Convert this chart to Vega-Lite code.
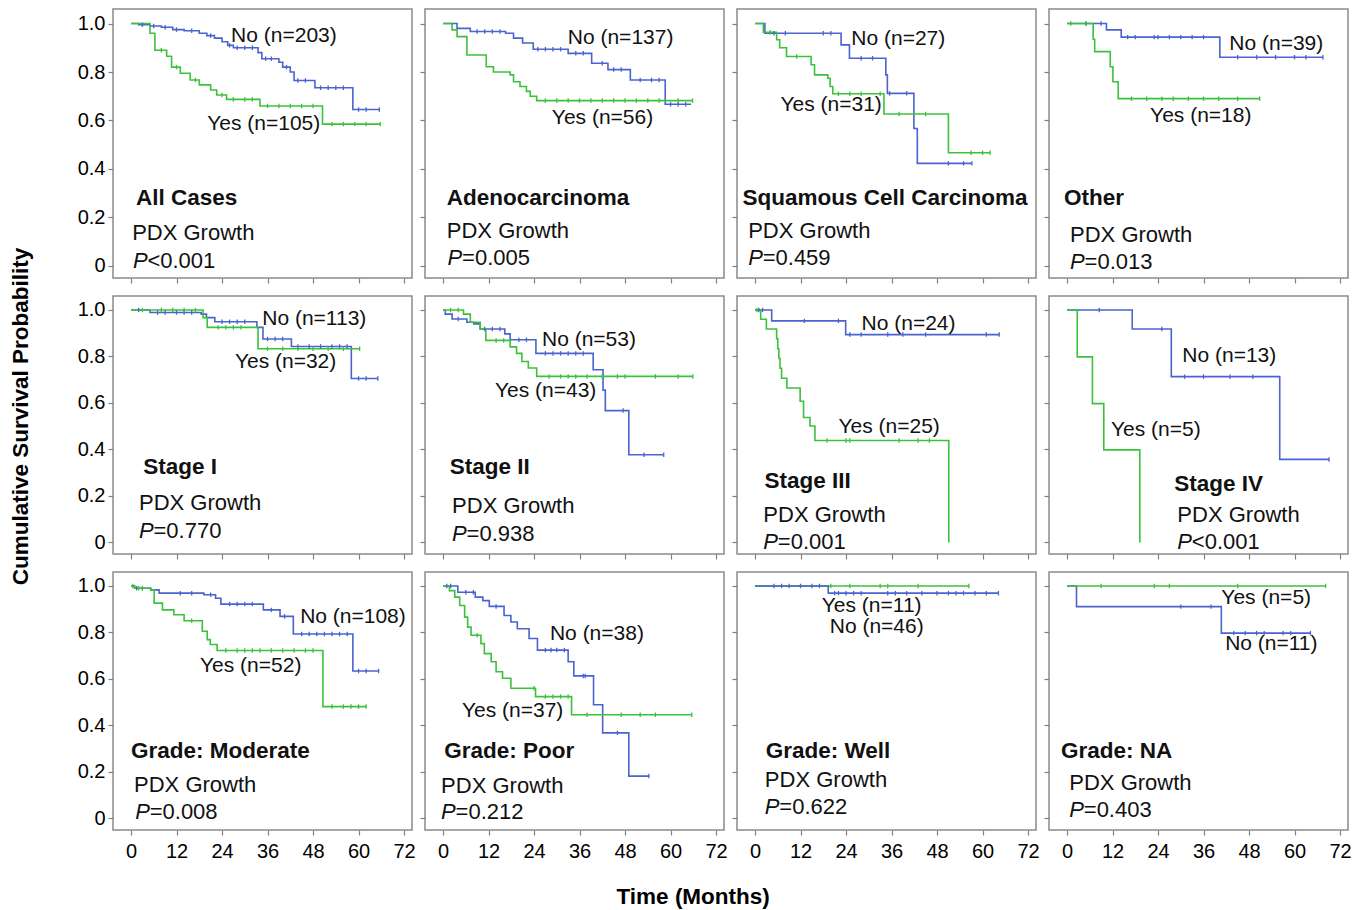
{
"$schema": "https://vega.github.io/schema/vega-lite/v6.json",
"padding": {"left": 8, "top": 8, "right": 5, "bottom": 0},
"title": {"text": "Time (Months)", "orient": "bottom", "anchor": "middle", "fontSize": 22.5, "fontWeight": "bold", "font": "Liberation Sans", "offset": 24, "dx": 13, "color": "#000"},
"datasets": {"d": [
{"p":1,"g":"No","k":"e","t":0,"s":1},{"p":1,"g":"No","k":"e","t":2,"s":0.995},{"p":1,"g":"No","k":"e","t":5,"s":0.99},{"p":1,"g":"No","k":"e","t":8,"s":0.985},{"p":1,"g":"No","k":"e","t":11,"s":0.975},{"p":1,"g":"No","k":"e","t":14,"s":0.97},{"p":1,"g":"No","k":"e","t":18,"s":0.96},{"p":1,"g":"No","k":"e","t":20,"s":0.95},{"p":1,"g":"No","k":"e","t":22,"s":0.94},{"p":1,"g":"No","k":"e","t":24,"s":0.925},{"p":1,"g":"No","k":"e","t":25.5,"s":0.91},{"p":1,"g":"No","k":"e","t":27,"s":0.9},{"p":1,"g":"No","k":"e","t":33.5,"s":0.88},{"p":1,"g":"No","k":"e","t":34.5,"s":0.855},{"p":1,"g":"No","k":"e","t":39,"s":0.84},{"p":1,"g":"No","k":"e","t":40,"s":0.82},{"p":1,"g":"No","k":"e","t":42,"s":0.8},{"p":1,"g":"No","k":"e","t":43,"s":0.765},{"p":1,"g":"No","k":"e","t":48.5,"s":0.735},{"p":1,"g":"No","k":"e","t":58.5,"s":0.645},{"p":1,"g":"No","k":"e","t":65.5,"s":0.645},
{"p":1,"g":"No","k":"c","t":3,"s":0.995},{"p":1,"g":"No","k":"c","t":6,"s":0.99},{"p":1,"g":"No","k":"c","t":9,"s":0.985},{"p":1,"g":"No","k":"c","t":12,"s":0.975},{"p":1,"g":"No","k":"c","t":16,"s":0.97},{"p":1,"g":"No","k":"c","t":21,"s":0.95},{"p":1,"g":"No","k":"c","t":26,"s":0.91},{"p":1,"g":"No","k":"c","t":28,"s":0.9},{"p":1,"g":"No","k":"c","t":30,"s":0.9},{"p":1,"g":"No","k":"c","t":32,"s":0.9},{"p":1,"g":"No","k":"c","t":35.5,"s":0.855},{"p":1,"g":"No","k":"c","t":37,"s":0.855},{"p":1,"g":"No","k":"c","t":41,"s":0.82},{"p":1,"g":"No","k":"c","t":44,"s":0.765},{"p":1,"g":"No","k":"c","t":46,"s":0.765},{"p":1,"g":"No","k":"c","t":50,"s":0.735},{"p":1,"g":"No","k":"c","t":52,"s":0.735},{"p":1,"g":"No","k":"c","t":54,"s":0.735},{"p":1,"g":"No","k":"c","t":56,"s":0.735},{"p":1,"g":"No","k":"c","t":60,"s":0.645},{"p":1,"g":"No","k":"c","t":62,"s":0.645},{"p":1,"g":"No","k":"c","t":65.5,"s":0.645},
{"p":1,"g":"Yes","k":"e","t":0,"s":1},{"p":1,"g":"Yes","k":"e","t":5,"s":0.96},{"p":1,"g":"Yes","k":"e","t":6.3,"s":0.89},{"p":1,"g":"Yes","k":"e","t":9.4,"s":0.865},{"p":1,"g":"Yes","k":"e","t":10.7,"s":0.82},{"p":1,"g":"Yes","k":"e","t":13,"s":0.795},{"p":1,"g":"Yes","k":"e","t":15.6,"s":0.767},{"p":1,"g":"Yes","k":"e","t":18,"s":0.747},{"p":1,"g":"Yes","k":"e","t":21,"s":0.726},{"p":1,"g":"Yes","k":"e","t":22.6,"s":0.705},{"p":1,"g":"Yes","k":"e","t":25.2,"s":0.687},{"p":1,"g":"Yes","k":"e","t":34,"s":0.66},{"p":1,"g":"Yes","k":"e","t":50.5,"s":0.585},{"p":1,"g":"Yes","k":"e","t":65.7,"s":0.585},
{"p":1,"g":"Yes","k":"c","t":8,"s":0.89},{"p":1,"g":"Yes","k":"c","t":12,"s":0.82},{"p":1,"g":"Yes","k":"c","t":17,"s":0.767},{"p":1,"g":"Yes","k":"c","t":24,"s":0.705},{"p":1,"g":"Yes","k":"c","t":27,"s":0.687},{"p":1,"g":"Yes","k":"c","t":30,"s":0.687},{"p":1,"g":"Yes","k":"c","t":32,"s":0.687},{"p":1,"g":"Yes","k":"c","t":36,"s":0.66},{"p":1,"g":"Yes","k":"c","t":39,"s":0.66},{"p":1,"g":"Yes","k":"c","t":42,"s":0.66},{"p":1,"g":"Yes","k":"c","t":45,"s":0.66},{"p":1,"g":"Yes","k":"c","t":48,"s":0.66},{"p":1,"g":"Yes","k":"c","t":53,"s":0.585},{"p":1,"g":"Yes","k":"c","t":56,"s":0.585},{"p":1,"g":"Yes","k":"c","t":59,"s":0.585},{"p":1,"g":"Yes","k":"c","t":62,"s":0.585},{"p":1,"g":"Yes","k":"c","t":65.7,"s":0.585},
{"p":1,"k":"n","t":26.4,"s":0.949,"x":"No (n=203)"},{"p":1,"k":"n","t":20.1,"s":0.586,"x":"Yes (n=105)"},{"p":1,"k":"h","t":1.3,"s":0.28,"x":"All Cases"},{"p":1,"k":"sub","t":0.3,"s":0.136,"x":"PDX Growth"},{"p":1,"k":"pv","t":0.5,"s":0.02,"x":"<0.001"},

{"p":2,"g":"No","k":"e","t":0,"s":1},{"p":2,"g":"No","k":"e","t":3.7,"s":0.98},{"p":2,"g":"No","k":"e","t":7.2,"s":0.967},{"p":2,"g":"No","k":"e","t":16.5,"s":0.96},{"p":2,"g":"No","k":"e","t":18.6,"s":0.94},{"p":2,"g":"No","k":"e","t":21,"s":0.92},{"p":2,"g":"No","k":"e","t":23.8,"s":0.894},{"p":2,"g":"No","k":"e","t":33,"s":0.877},{"p":2,"g":"No","k":"e","t":39.2,"s":0.836},{"p":2,"g":"No","k":"e","t":43.5,"s":0.81},{"p":2,"g":"No","k":"e","t":49.4,"s":0.767},{"p":2,"g":"No","k":"e","t":58.6,"s":0.667},{"p":2,"g":"No","k":"e","t":65.4,"s":0.667},
{"p":2,"g":"No","k":"c","t":9,"s":0.967},{"p":2,"g":"No","k":"c","t":11,"s":0.967},{"p":2,"g":"No","k":"c","t":13,"s":0.967},{"p":2,"g":"No","k":"c","t":15,"s":0.967},{"p":2,"g":"No","k":"c","t":25,"s":0.894},{"p":2,"g":"No","k":"c","t":27,"s":0.894},{"p":2,"g":"No","k":"c","t":29,"s":0.894},{"p":2,"g":"No","k":"c","t":31,"s":0.894},{"p":2,"g":"No","k":"c","t":35,"s":0.877},{"p":2,"g":"No","k":"c","t":37,"s":0.877},{"p":2,"g":"No","k":"c","t":42,"s":0.836},{"p":2,"g":"No","k":"c","t":45,"s":0.81},{"p":2,"g":"No","k":"c","t":47,"s":0.81},{"p":2,"g":"No","k":"c","t":52,"s":0.767},{"p":2,"g":"No","k":"c","t":55,"s":0.767},{"p":2,"g":"No","k":"c","t":57,"s":0.767},{"p":2,"g":"No","k":"c","t":60,"s":0.667},{"p":2,"g":"No","k":"c","t":62,"s":0.667},{"p":2,"g":"No","k":"c","t":64,"s":0.667},
{"p":2,"g":"Yes","k":"e","t":0,"s":1},{"p":2,"g":"Yes","k":"e","t":2.4,"s":0.974},{"p":2,"g":"Yes","k":"e","t":3.7,"s":0.946},{"p":2,"g":"Yes","k":"e","t":6.3,"s":0.87},{"p":2,"g":"Yes","k":"e","t":11.4,"s":0.822},{"p":2,"g":"Yes","k":"e","t":13.3,"s":0.8},{"p":2,"g":"Yes","k":"e","t":17.7,"s":0.788},{"p":2,"g":"Yes","k":"e","t":18.6,"s":0.76},{"p":2,"g":"Yes","k":"e","t":20.3,"s":0.74},{"p":2,"g":"Yes","k":"e","t":22,"s":0.72},{"p":2,"g":"Yes","k":"e","t":23,"s":0.7},{"p":2,"g":"Yes","k":"e","t":24.7,"s":0.682},{"p":2,"g":"Yes","k":"e","t":65.8,"s":0.682},
{"p":2,"g":"Yes","k":"c","t":27,"s":0.682},{"p":2,"g":"Yes","k":"c","t":30,"s":0.682},{"p":2,"g":"Yes","k":"c","t":33,"s":0.682},{"p":2,"g":"Yes","k":"c","t":36,"s":0.682},{"p":2,"g":"Yes","k":"c","t":39,"s":0.682},{"p":2,"g":"Yes","k":"c","t":42,"s":0.682},{"p":2,"g":"Yes","k":"c","t":45,"s":0.682},{"p":2,"g":"Yes","k":"c","t":48,"s":0.682},{"p":2,"g":"Yes","k":"c","t":51,"s":0.682},{"p":2,"g":"Yes","k":"c","t":54,"s":0.682},{"p":2,"g":"Yes","k":"c","t":57,"s":0.682},{"p":2,"g":"Yes","k":"c","t":62,"s":0.682},{"p":2,"g":"Yes","k":"c","t":65.8,"s":0.682},
{"p":2,"k":"n","t":32.9,"s":0.941,"x":"No (n=137)"},{"p":2,"k":"n","t":28.7,"s":0.61,"x":"Yes (n=56)"},{"p":2,"k":"h","t":1.0,"s":0.28,"x":"Adenocarcinoma"},{"p":2,"k":"sub","t":1.0,"s":0.144,"x":"PDX Growth"},{"p":2,"k":"pv","t":1.2,"s":0.033,"x":"=0.005"},

{"p":3,"g":"No","k":"e","t":0,"s":1},{"p":3,"g":"No","k":"e","t":2.6,"s":0.96},{"p":3,"g":"No","k":"e","t":22.7,"s":0.912},{"p":3,"g":"No","k":"e","t":24.9,"s":0.857},{"p":3,"g":"No","k":"e","t":34.5,"s":0.788},{"p":3,"g":"No","k":"e","t":34.9,"s":0.712},{"p":3,"g":"No","k":"e","t":41.9,"s":0.567},{"p":3,"g":"No","k":"e","t":42.8,"s":0.423},{"p":3,"g":"No","k":"e","t":57.2,"s":0.423},
{"p":3,"g":"No","k":"c","t":5,"s":0.96},{"p":3,"g":"No","k":"c","t":8,"s":0.96},{"p":3,"g":"No","k":"c","t":18,"s":0.96},{"p":3,"g":"No","k":"c","t":20,"s":0.96},{"p":3,"g":"No","k":"c","t":28,"s":0.857},{"p":3,"g":"No","k":"c","t":31,"s":0.857},{"p":3,"g":"No","k":"c","t":35.5,"s":0.712},{"p":3,"g":"No","k":"c","t":40,"s":0.712},{"p":3,"g":"No","k":"c","t":51,"s":0.423},{"p":3,"g":"No","k":"c","t":55,"s":0.423},{"p":3,"g":"No","k":"c","t":57.2,"s":0.423},
{"p":3,"g":"Yes","k":"e","t":0,"s":1},{"p":3,"g":"Yes","k":"e","t":2.2,"s":0.964},{"p":3,"g":"Yes","k":"e","t":5.7,"s":0.933},{"p":3,"g":"Yes","k":"e","t":6.5,"s":0.9},{"p":3,"g":"Yes","k":"e","t":8.3,"s":0.864},{"p":3,"g":"Yes","k":"e","t":14.8,"s":0.83},{"p":3,"g":"Yes","k":"e","t":15.7,"s":0.788},{"p":3,"g":"Yes","k":"e","t":19.2,"s":0.774},{"p":3,"g":"Yes","k":"e","t":19.8,"s":0.74},{"p":3,"g":"Yes","k":"e","t":20.5,"s":0.71},{"p":3,"g":"Yes","k":"e","t":34,"s":0.627},{"p":3,"g":"Yes","k":"e","t":51,"s":0.467},{"p":3,"g":"Yes","k":"e","t":62,"s":0.467},
{"p":3,"g":"Yes","k":"c","t":4,"s":0.964},{"p":3,"g":"Yes","k":"c","t":11,"s":0.864},{"p":3,"g":"Yes","k":"c","t":22,"s":0.71},{"p":3,"g":"Yes","k":"c","t":25,"s":0.71},{"p":3,"g":"Yes","k":"c","t":28,"s":0.71},{"p":3,"g":"Yes","k":"c","t":33,"s":0.71},{"p":3,"g":"Yes","k":"c","t":38,"s":0.627},{"p":3,"g":"Yes","k":"c","t":45,"s":0.627},{"p":3,"g":"Yes","k":"c","t":57,"s":0.467},{"p":3,"g":"Yes","k":"c","t":60,"s":0.467},{"p":3,"g":"Yes","k":"c","t":62,"s":0.467},
{"p":3,"k":"n","t":25.4,"s":0.937,"x":"No (n=27)"},{"p":3,"k":"n","t":6.7,"s":0.664,"x":"Yes (n=31)"},{"p":3,"k":"h","t":-3.3,"s":0.28,"x":"Squamous Cell Carcinoma"},{"p":3,"k":"sub","t":-1.8,"s":0.144,"x":"PDX Growth"},{"p":3,"k":"pv","t":-1.8,"s":0.033,"x":"=0.459"},

{"p":4,"g":"No","k":"e","t":0,"s":1},{"p":4,"g":"No","k":"e","t":10.4,"s":0.974},{"p":4,"g":"No","k":"e","t":14.3,"s":0.944},{"p":4,"g":"No","k":"e","t":40.3,"s":0.861},{"p":4,"g":"No","k":"e","t":67.5,"s":0.861},
{"p":4,"g":"No","k":"c","t":5,"s":1},{"p":4,"g":"No","k":"c","t":9,"s":1},{"p":4,"g":"No","k":"c","t":16,"s":0.944},{"p":4,"g":"No","k":"c","t":18,"s":0.944},{"p":4,"g":"No","k":"c","t":23,"s":0.944},{"p":4,"g":"No","k":"c","t":24,"s":0.944},{"p":4,"g":"No","k":"c","t":27,"s":0.944},{"p":4,"g":"No","k":"c","t":30,"s":0.944},{"p":4,"g":"No","k":"c","t":33,"s":0.944},{"p":4,"g":"No","k":"c","t":36,"s":0.944},{"p":4,"g":"No","k":"c","t":45,"s":0.861},{"p":4,"g":"No","k":"c","t":50,"s":0.861},{"p":4,"g":"No","k":"c","t":55,"s":0.861},{"p":4,"g":"No","k":"c","t":60,"s":0.861},{"p":4,"g":"No","k":"c","t":63,"s":0.861},{"p":4,"g":"No","k":"c","t":67.5,"s":0.861},
{"p":4,"g":"Yes","k":"e","t":0,"s":1},{"p":4,"g":"Yes","k":"e","t":6.9,"s":0.935},{"p":4,"g":"Yes","k":"e","t":7.3,"s":0.884},{"p":4,"g":"Yes","k":"e","t":11.4,"s":0.822},{"p":4,"g":"Yes","k":"e","t":12.1,"s":0.76},{"p":4,"g":"Yes","k":"e","t":13.5,"s":0.69},{"p":4,"g":"Yes","k":"e","t":50.8,"s":0.69},
{"p":4,"g":"Yes","k":"c","t":1,"s":1},{"p":4,"g":"Yes","k":"c","t":5,"s":1},{"p":4,"g":"Yes","k":"c","t":17,"s":0.69},{"p":4,"g":"Yes","k":"c","t":21,"s":0.69},{"p":4,"g":"Yes","k":"c","t":25,"s":0.69},{"p":4,"g":"Yes","k":"c","t":28,"s":0.69},{"p":4,"g":"Yes","k":"c","t":32,"s":0.69},{"p":4,"g":"Yes","k":"c","t":36,"s":0.69},{"p":4,"g":"Yes","k":"c","t":40,"s":0.69},{"p":4,"g":"Yes","k":"c","t":45,"s":0.69},{"p":4,"g":"Yes","k":"c","t":50.8,"s":0.69},
{"p":4,"k":"n","t":42.8,"s":0.916,"x":"No (n=39)"},{"p":4,"k":"n","t":21.9,"s":0.618,"x":"Yes (n=18)"},{"p":4,"k":"h","t":-0.8,"s":0.28,"x":"Other"},{"p":4,"k":"sub","t":0.8,"s":0.128,"x":"PDX Growth"},{"p":4,"k":"pv","t":0.8,"s":0.016,"x":"=0.013"},

{"p":5,"g":"No","k":"e","t":0,"s":1},{"p":5,"g":"No","k":"e","t":5,"s":0.989},{"p":5,"g":"No","k":"e","t":18.5,"s":0.982},{"p":5,"g":"No","k":"e","t":19.9,"s":0.967},{"p":5,"g":"No","k":"e","t":22.1,"s":0.949},{"p":5,"g":"No","k":"e","t":33.2,"s":0.925},{"p":5,"g":"No","k":"e","t":34.8,"s":0.875},{"p":5,"g":"No","k":"e","t":42.3,"s":0.843},{"p":5,"g":"No","k":"e","t":58.1,"s":0.705},{"p":5,"g":"No","k":"e","t":65.1,"s":0.705},
{"p":5,"g":"No","k":"c","t":2,"s":1},{"p":5,"g":"No","k":"c","t":7,"s":0.989},{"p":5,"g":"No","k":"c","t":9,"s":0.989},{"p":5,"g":"No","k":"c","t":12,"s":0.989},{"p":5,"g":"No","k":"c","t":14,"s":0.989},{"p":5,"g":"No","k":"c","t":16,"s":0.989},{"p":5,"g":"No","k":"c","t":24,"s":0.949},{"p":5,"g":"No","k":"c","t":26,"s":0.949},{"p":5,"g":"No","k":"c","t":28,"s":0.949},{"p":5,"g":"No","k":"c","t":30,"s":0.949},{"p":5,"g":"No","k":"c","t":36,"s":0.875},{"p":5,"g":"No","k":"c","t":38,"s":0.875},{"p":5,"g":"No","k":"c","t":40,"s":0.875},{"p":5,"g":"No","k":"c","t":44,"s":0.843},{"p":5,"g":"No","k":"c","t":47,"s":0.843},{"p":5,"g":"No","k":"c","t":50,"s":0.843},{"p":5,"g":"No","k":"c","t":53,"s":0.843},{"p":5,"g":"No","k":"c","t":55,"s":0.843},{"p":5,"g":"No","k":"c","t":57,"s":0.843},{"p":5,"g":"No","k":"c","t":60,"s":0.705},{"p":5,"g":"No","k":"c","t":62,"s":0.705},{"p":5,"g":"No","k":"c","t":65.1,"s":0.705},
{"p":5,"g":"Yes","k":"e","t":0,"s":1},{"p":5,"g":"Yes","k":"e","t":19,"s":0.967},{"p":5,"g":"Yes","k":"e","t":20.1,"s":0.925},{"p":5,"g":"Yes","k":"e","t":33.5,"s":0.833},{"p":5,"g":"Yes","k":"e","t":60.3,"s":0.833},
{"p":5,"g":"Yes","k":"c","t":3,"s":1},{"p":5,"g":"Yes","k":"c","t":8,"s":1},{"p":5,"g":"Yes","k":"c","t":11,"s":1},{"p":5,"g":"Yes","k":"c","t":14,"s":1},{"p":5,"g":"Yes","k":"c","t":17,"s":1},{"p":5,"g":"Yes","k":"c","t":23,"s":0.925},{"p":5,"g":"Yes","k":"c","t":25,"s":0.925},{"p":5,"g":"Yes","k":"c","t":27,"s":0.925},{"p":5,"g":"Yes","k":"c","t":29,"s":0.925},{"p":5,"g":"Yes","k":"c","t":36,"s":0.833},{"p":5,"g":"Yes","k":"c","t":40,"s":0.833},{"p":5,"g":"Yes","k":"c","t":44,"s":0.833},{"p":5,"g":"Yes","k":"c","t":48,"s":0.833},{"p":5,"g":"Yes","k":"c","t":52,"s":0.833},{"p":5,"g":"Yes","k":"c","t":56,"s":0.833},{"p":5,"g":"Yes","k":"c","t":60.3,"s":0.833},
{"p":5,"k":"n","t":34.6,"s":0.959,"x":"No (n=113)"},{"p":5,"k":"n","t":27.4,"s":0.776,"x":"Yes (n=32)"},{"p":5,"k":"h","t":3.2,"s":0.326,"x":"Stage I"},{"p":5,"k":"sub","t":2.1,"s":0.169,"x":"PDX Growth"},{"p":5,"k":"pv","t":2.1,"s":0.05,"x":"=0.770"},

{"p":6,"g":"No","k":"e","t":0,"s":1},{"p":6,"g":"No","k":"e","t":0.6,"s":0.982},{"p":6,"g":"No","k":"e","t":2.4,"s":0.961},{"p":6,"g":"No","k":"e","t":6.3,"s":0.947},{"p":6,"g":"No","k":"e","t":8.1,"s":0.94},{"p":6,"g":"No","k":"e","t":9.8,"s":0.918},{"p":6,"g":"No","k":"e","t":16.3,"s":0.897},{"p":6,"g":"No","k":"e","t":17.7,"s":0.872},{"p":6,"g":"No","k":"e","t":24.5,"s":0.813},{"p":6,"g":"No","k":"e","t":39.6,"s":0.743},{"p":6,"g":"No","k":"e","t":42.2,"s":0.655},{"p":6,"g":"No","k":"e","t":42.8,"s":0.567},{"p":6,"g":"No","k":"e","t":49,"s":0.377},{"p":6,"g":"No","k":"e","t":58.2,"s":0.377},
{"p":6,"g":"No","k":"c","t":4,"s":0.961},{"p":6,"g":"No","k":"c","t":11,"s":0.918},{"p":6,"g":"No","k":"c","t":13,"s":0.918},{"p":6,"g":"No","k":"c","t":15,"s":0.918},{"p":6,"g":"No","k":"c","t":20,"s":0.872},{"p":6,"g":"No","k":"c","t":22,"s":0.872},{"p":6,"g":"No","k":"c","t":27,"s":0.813},{"p":6,"g":"No","k":"c","t":29,"s":0.813},{"p":6,"g":"No","k":"c","t":31,"s":0.813},{"p":6,"g":"No","k":"c","t":33,"s":0.813},{"p":6,"g":"No","k":"c","t":35,"s":0.813},{"p":6,"g":"No","k":"c","t":37,"s":0.813},{"p":6,"g":"No","k":"c","t":47.5,"s":0.567},{"p":6,"g":"No","k":"c","t":53,"s":0.377},{"p":6,"g":"No","k":"c","t":58.2,"s":0.377},
{"p":6,"g":"Yes","k":"e","t":0,"s":1},{"p":6,"g":"Yes","k":"e","t":5.4,"s":0.982},{"p":6,"g":"Yes","k":"e","t":7.2,"s":0.947},{"p":6,"g":"Yes","k":"e","t":9.8,"s":0.918},{"p":6,"g":"Yes","k":"e","t":11.3,"s":0.869},{"p":6,"g":"Yes","k":"e","t":17.7,"s":0.841},{"p":6,"g":"Yes","k":"e","t":19.4,"s":0.813},{"p":6,"g":"Yes","k":"e","t":20.8,"s":0.778},{"p":6,"g":"Yes","k":"e","t":22.5,"s":0.75},{"p":6,"g":"Yes","k":"e","t":24.7,"s":0.714},{"p":6,"g":"Yes","k":"e","t":65.9,"s":0.714},
{"p":6,"g":"Yes","k":"c","t":2,"s":1},{"p":6,"g":"Yes","k":"c","t":4,"s":1},{"p":6,"g":"Yes","k":"c","t":14,"s":0.869},{"p":6,"g":"Yes","k":"c","t":16,"s":0.869},{"p":6,"g":"Yes","k":"c","t":28,"s":0.714},{"p":6,"g":"Yes","k":"c","t":31,"s":0.714},{"p":6,"g":"Yes","k":"c","t":33,"s":0.714},{"p":6,"g":"Yes","k":"c","t":35,"s":0.714},{"p":6,"g":"Yes","k":"c","t":38,"s":0.714},{"p":6,"g":"Yes","k":"c","t":42,"s":0.714},{"p":6,"g":"Yes","k":"c","t":46,"s":0.714},{"p":6,"g":"Yes","k":"c","t":48,"s":0.714},{"p":6,"g":"Yes","k":"c","t":56,"s":0.714},{"p":6,"g":"Yes","k":"c","t":62,"s":0.714},{"p":6,"g":"Yes","k":"c","t":65.9,"s":0.714},
{"p":6,"k":"n","t":26.1,"s":0.87,"x":"No (n=53)"},{"p":6,"k":"n","t":13.7,"s":0.653,"x":"Yes (n=43)"},{"p":6,"k":"h","t":1.8,"s":0.326,"x":"Stage II"},{"p":6,"k":"sub","t":2.4,"s":0.156,"x":"PDX Growth"},{"p":6,"k":"pv","t":2.4,"s":0.037,"x":"=0.938"},

{"p":7,"g":"No","k":"e","t":0,"s":1},{"p":7,"g":"No","k":"e","t":4.4,"s":0.953},{"p":7,"g":"No","k":"e","t":23.9,"s":0.894},{"p":7,"g":"No","k":"e","t":64.4,"s":0.894},
{"p":7,"g":"No","k":"c","t":1,"s":1},{"p":7,"g":"No","k":"c","t":2,"s":1},{"p":7,"g":"No","k":"c","t":13,"s":0.953},{"p":7,"g":"No","k":"c","t":22,"s":0.953},{"p":7,"g":"No","k":"c","t":25,"s":0.894},{"p":7,"g":"No","k":"c","t":28,"s":0.894},{"p":7,"g":"No","k":"c","t":35,"s":0.894},{"p":7,"g":"No","k":"c","t":39,"s":0.894},{"p":7,"g":"No","k":"c","t":45,"s":0.894},{"p":7,"g":"No","k":"c","t":61,"s":0.894},{"p":7,"g":"No","k":"c","t":64.4,"s":0.894},
{"p":7,"g":"Yes","k":"e","t":0,"s":1},{"p":7,"g":"Yes","k":"e","t":1.5,"s":0.96},{"p":7,"g":"Yes","k":"e","t":3,"s":0.918},{"p":7,"g":"Yes","k":"e","t":5.7,"s":0.876},{"p":7,"g":"Yes","k":"e","t":6,"s":0.833},{"p":7,"g":"Yes","k":"e","t":6.3,"s":0.791},{"p":7,"g":"Yes","k":"e","t":6.6,"s":0.749},{"p":7,"g":"Yes","k":"e","t":7,"s":0.706},{"p":7,"g":"Yes","k":"e","t":8.4,"s":0.664},{"p":7,"g":"Yes","k":"e","t":11.9,"s":0.607},{"p":7,"g":"Yes","k":"e","t":12.8,"s":0.537},{"p":7,"g":"Yes","k":"e","t":14.5,"s":0.501},{"p":7,"g":"Yes","k":"e","t":15.8,"s":0.438},{"p":7,"g":"Yes","k":"e","t":51.1,"s":0},
{"p":7,"g":"Yes","k":"c","t":0.5,"s":1},{"p":7,"g":"Yes","k":"c","t":19,"s":0.438},{"p":7,"g":"Yes","k":"c","t":24,"s":0.438},{"p":7,"g":"Yes","k":"c","t":25,"s":0.438},{"p":7,"g":"Yes","k":"c","t":38,"s":0.438},{"p":7,"g":"Yes","k":"c","t":43,"s":0.438},{"p":7,"g":"Yes","k":"c","t":46,"s":0.438},
{"p":7,"k":"n","t":28.1,"s":0.938,"x":"No (n=24)"},{"p":7,"k":"n","t":22.0,"s":0.496,"x":"Yes (n=25)"},{"p":7,"k":"h","t":2.5,"s":0.266,"x":"Stage III"},{"p":7,"k":"sub","t":2.2,"s":0.118,"x":"PDX Growth"},{"p":7,"k":"pv","t":2.2,"s":0.003,"x":"=0.001"},

{"p":8,"g":"No","k":"e","t":0,"s":1},{"p":8,"g":"No","k":"e","t":17.2,"s":0.918},{"p":8,"g":"No","k":"e","t":27.5,"s":0.713},{"p":8,"g":"No","k":"e","t":56.1,"s":0.357},{"p":8,"g":"No","k":"e","t":69.1,"s":0.357},
{"p":8,"g":"No","k":"c","t":8.5,"s":1},{"p":8,"g":"No","k":"c","t":25,"s":0.918},{"p":8,"g":"No","k":"c","t":31,"s":0.713},{"p":8,"g":"No","k":"c","t":36,"s":0.713},{"p":8,"g":"No","k":"c","t":43,"s":0.713},{"p":8,"g":"No","k":"c","t":49,"s":0.713},{"p":8,"g":"No","k":"c","t":69.1,"s":0.357},
{"p":8,"g":"Yes","k":"e","t":0,"s":1},{"p":8,"g":"Yes","k":"e","t":2.7,"s":0.798},{"p":8,"g":"Yes","k":"e","t":6.7,"s":0.597},{"p":8,"g":"Yes","k":"e","t":9.7,"s":0.398},{"p":8,"g":"Yes","k":"e","t":19.2,"s":0},
{"p":8,"k":"n","t":30.4,"s":0.802,"x":"No (n=13)"},{"p":8,"k":"n","t":11.6,"s":0.483,"x":"Yes (n=5)"},{"p":8,"k":"h","t":28.3,"s":0.253,"x":"Stage IV"},{"p":8,"k":"sub","t":29.1,"s":0.118,"x":"PDX Growth"},{"p":8,"k":"pv","t":29.1,"s":0.003,"x":"<0.001"},

{"p":9,"g":"No","k":"e","t":0,"s":1},{"p":9,"g":"No","k":"e","t":0.9,"s":0.99},{"p":9,"g":"No","k":"e","t":5.2,"s":0.983},{"p":9,"g":"No","k":"e","t":7.4,"s":0.969},{"p":9,"g":"No","k":"e","t":19.2,"s":0.962},{"p":9,"g":"No","k":"e","t":22.3,"s":0.947},{"p":9,"g":"No","k":"e","t":23.7,"s":0.922},{"p":9,"g":"No","k":"e","t":34.9,"s":0.897},{"p":9,"g":"No","k":"e","t":39.3,"s":0.869},{"p":9,"g":"No","k":"e","t":42.8,"s":0.793},{"p":9,"g":"No","k":"e","t":58.5,"s":0.634},{"p":9,"g":"No","k":"e","t":65.3,"s":0.634},
{"p":9,"g":"No","k":"c","t":1.5,"s":0.99},{"p":9,"g":"No","k":"c","t":3,"s":0.99},{"p":9,"g":"No","k":"c","t":13,"s":0.969},{"p":9,"g":"No","k":"c","t":16,"s":0.969},{"p":9,"g":"No","k":"c","t":21,"s":0.962},{"p":9,"g":"No","k":"c","t":26,"s":0.922},{"p":9,"g":"No","k":"c","t":28,"s":0.922},{"p":9,"g":"No","k":"c","t":30,"s":0.922},{"p":9,"g":"No","k":"c","t":32,"s":0.922},{"p":9,"g":"No","k":"c","t":37,"s":0.897},{"p":9,"g":"No","k":"c","t":40.5,"s":0.869},{"p":9,"g":"No","k":"c","t":45,"s":0.793},{"p":9,"g":"No","k":"c","t":47,"s":0.793},{"p":9,"g":"No","k":"c","t":49,"s":0.793},{"p":9,"g":"No","k":"c","t":51,"s":0.793},{"p":9,"g":"No","k":"c","t":53,"s":0.793},{"p":9,"g":"No","k":"c","t":55,"s":0.793},{"p":9,"g":"No","k":"c","t":57,"s":0.793},{"p":9,"g":"No","k":"c","t":60,"s":0.634},{"p":9,"g":"No","k":"c","t":62,"s":0.634},{"p":9,"g":"No","k":"c","t":65.3,"s":0.634},
{"p":9,"g":"Yes","k":"e","t":0,"s":1},{"p":9,"g":"Yes","k":"e","t":1,"s":0.99},{"p":9,"g":"Yes","k":"e","t":5.2,"s":0.983},{"p":9,"g":"Yes","k":"e","t":6.1,"s":0.926},{"p":9,"g":"Yes","k":"e","t":8.3,"s":0.897},{"p":9,"g":"Yes","k":"e","t":11.3,"s":0.876},{"p":9,"g":"Yes","k":"e","t":14,"s":0.85},{"p":9,"g":"Yes","k":"e","t":18.8,"s":0.805},{"p":9,"g":"Yes","k":"e","t":20.1,"s":0.769},{"p":9,"g":"Yes","k":"e","t":20.9,"s":0.748},{"p":9,"g":"Yes","k":"e","t":22.7,"s":0.722},{"p":9,"g":"Yes","k":"e","t":50.6,"s":0.481},{"p":9,"g":"Yes","k":"e","t":62,"s":0.481},
{"p":9,"g":"Yes","k":"c","t":0.5,"s":1},{"p":9,"g":"Yes","k":"c","t":2,"s":0.99},{"p":9,"g":"Yes","k":"c","t":3,"s":0.99},{"p":9,"g":"Yes","k":"c","t":16,"s":0.85},{"p":9,"g":"Yes","k":"c","t":25,"s":0.722},{"p":9,"g":"Yes","k":"c","t":28,"s":0.722},{"p":9,"g":"Yes","k":"c","t":30,"s":0.722},{"p":9,"g":"Yes","k":"c","t":32,"s":0.722},{"p":9,"g":"Yes","k":"c","t":34,"s":0.722},{"p":9,"g":"Yes","k":"c","t":37,"s":0.722},{"p":9,"g":"Yes","k":"c","t":40,"s":0.722},{"p":9,"g":"Yes","k":"c","t":43,"s":0.722},{"p":9,"g":"Yes","k":"c","t":46,"s":0.722},{"p":9,"g":"Yes","k":"c","t":48,"s":0.722},{"p":9,"g":"Yes","k":"c","t":53,"s":0.481},{"p":9,"g":"Yes","k":"c","t":56,"s":0.481},{"p":9,"g":"Yes","k":"c","t":58,"s":0.481},{"p":9,"g":"Yes","k":"c","t":60,"s":0.481},{"p":9,"g":"Yes","k":"c","t":62,"s":0.481},
{"p":9,"k":"n","t":44.6,"s":0.865,"x":"No (n=108)"},{"p":9,"k":"n","t":18.2,"s":0.656,"x":"Yes (n=52)"},{"p":9,"k":"h","t":0,"s":0.288,"x":"Grade: Moderate"},{"p":9,"k":"sub","t":0.8,"s":0.143,"x":"PDX Growth"},{"p":9,"k":"pv","t":1.1,"s":0.028,"x":"=0.008"},

{"p":10,"g":"No","k":"e","t":0,"s":1},{"p":10,"g":"No","k":"e","t":3.9,"s":0.973},{"p":10,"g":"No","k":"e","t":8.5,"s":0.952},{"p":10,"g":"No","k":"e","t":10.5,"s":0.937},{"p":10,"g":"No","k":"e","t":12.2,"s":0.912},{"p":10,"g":"No","k":"e","t":16.1,"s":0.873},{"p":10,"g":"No","k":"e","t":17.9,"s":0.845},{"p":10,"g":"No","k":"e","t":19.6,"s":0.816},{"p":10,"g":"No","k":"e","t":22.7,"s":0.774},{"p":10,"g":"No","k":"e","t":24.9,"s":0.724},{"p":10,"g":"No","k":"e","t":33,"s":0.674},{"p":10,"g":"No","k":"e","t":34.5,"s":0.613},{"p":10,"g":"No","k":"e","t":39.7,"s":0.489},{"p":10,"g":"No","k":"e","t":42.1,"s":0.368},{"p":10,"g":"No","k":"e","t":49,"s":0.182},{"p":10,"g":"No","k":"e","t":54.3,"s":0.182},
{"p":10,"g":"No","k":"c","t":1,"s":1},{"p":10,"g":"No","k":"c","t":2,"s":1},{"p":10,"g":"No","k":"c","t":6,"s":0.973},{"p":10,"g":"No","k":"c","t":8,"s":0.973},{"p":10,"g":"No","k":"c","t":14,"s":0.912},{"p":10,"g":"No","k":"c","t":27,"s":0.724},{"p":10,"g":"No","k":"c","t":28.5,"s":0.724},{"p":10,"g":"No","k":"c","t":30,"s":0.724},{"p":10,"g":"No","k":"c","t":32,"s":0.724},{"p":10,"g":"No","k":"c","t":37,"s":0.613},{"p":10,"g":"No","k":"c","t":37.5,"s":0.613},{"p":10,"g":"No","k":"c","t":46,"s":0.368},{"p":10,"g":"No","k":"c","t":54.3,"s":0.182},
{"p":10,"g":"Yes","k":"e","t":0,"s":1},{"p":10,"g":"Yes","k":"e","t":1.7,"s":0.98},{"p":10,"g":"Yes","k":"e","t":3.1,"s":0.952},{"p":10,"g":"Yes","k":"e","t":4.4,"s":0.916},{"p":10,"g":"Yes","k":"e","t":5.7,"s":0.866},{"p":10,"g":"Yes","k":"e","t":6.5,"s":0.823},{"p":10,"g":"Yes","k":"e","t":7.4,"s":0.788},{"p":10,"g":"Yes","k":"e","t":10,"s":0.752},{"p":10,"g":"Yes","k":"e","t":10.9,"s":0.709},{"p":10,"g":"Yes","k":"e","t":12.7,"s":0.674},{"p":10,"g":"Yes","k":"e","t":14,"s":0.631},{"p":10,"g":"Yes","k":"e","t":15.7,"s":0.603},{"p":10,"g":"Yes","k":"e","t":17.9,"s":0.56},{"p":10,"g":"Yes","k":"e","t":24.4,"s":0.524},{"p":10,"g":"Yes","k":"e","t":33.9,"s":0.446},{"p":10,"g":"Yes","k":"e","t":65.6,"s":0.446},
{"p":10,"g":"Yes","k":"c","t":9,"s":0.788},{"p":10,"g":"Yes","k":"c","t":24,"s":0.56},{"p":10,"g":"Yes","k":"c","t":27,"s":0.524},{"p":10,"g":"Yes","k":"c","t":29,"s":0.524},{"p":10,"g":"Yes","k":"c","t":31,"s":0.524},{"p":10,"g":"Yes","k":"c","t":33,"s":0.524},{"p":10,"g":"Yes","k":"c","t":38,"s":0.446},{"p":10,"g":"Yes","k":"c","t":47,"s":0.446},{"p":10,"g":"Yes","k":"c","t":52,"s":0.446},{"p":10,"g":"Yes","k":"c","t":56,"s":0.446},{"p":10,"g":"Yes","k":"c","t":65.6,"s":0.446},
{"p":10,"k":"n","t":28.2,"s":0.792,"x":"No (n=38)"},{"p":10,"k":"n","t":5.0,"s":0.463,"x":"Yes (n=37)"},{"p":10,"k":"h","t":0.3,"s":0.288,"x":"Grade: Poor"},{"p":10,"k":"sub","t":-0.5,"s":0.139,"x":"PDX Growth"},{"p":10,"k":"pv","t":-0.5,"s":0.028,"x":"=0.212"},

{"p":11,"g":"Yes","k":"e","t":0,"s":1},{"p":11,"g":"Yes","k":"e","t":56.4,"s":1},
{"p":11,"g":"Yes","k":"c","t":20,"s":1},{"p":11,"g":"Yes","k":"c","t":25,"s":1},{"p":11,"g":"Yes","k":"c","t":33,"s":1},{"p":11,"g":"Yes","k":"c","t":35,"s":1},{"p":11,"g":"Yes","k":"c","t":43,"s":1},{"p":11,"g":"Yes","k":"c","t":56.4,"s":1},
{"p":11,"g":"No","k":"e","t":0,"s":1},{"p":11,"g":"No","k":"e","t":19.3,"s":0.969},{"p":11,"g":"No","k":"e","t":64.2,"s":0.969},
{"p":11,"g":"No","k":"c","t":5,"s":1},{"p":11,"g":"No","k":"c","t":7,"s":1},{"p":11,"g":"No","k":"c","t":9,"s":1},{"p":11,"g":"No","k":"c","t":12,"s":1},{"p":11,"g":"No","k":"c","t":15,"s":1},{"p":11,"g":"No","k":"c","t":17,"s":1},{"p":11,"g":"No","k":"c","t":21,"s":0.969},{"p":11,"g":"No","k":"c","t":22,"s":0.969},{"p":11,"g":"No","k":"c","t":24,"s":0.969},{"p":11,"g":"No","k":"c","t":26,"s":0.969},{"p":11,"g":"No","k":"c","t":28,"s":0.969},{"p":11,"g":"No","k":"c","t":35,"s":0.969},{"p":11,"g":"No","k":"c","t":37,"s":0.969},{"p":11,"g":"No","k":"c","t":40,"s":0.969},{"p":11,"g":"No","k":"c","t":44,"s":0.969},{"p":11,"g":"No","k":"c","t":48,"s":0.969},{"p":11,"g":"No","k":"c","t":51,"s":0.969},{"p":11,"g":"No","k":"c","t":53,"s":0.969},{"p":11,"g":"No","k":"c","t":55,"s":0.969},{"p":11,"g":"No","k":"c","t":58,"s":0.969},{"p":11,"g":"No","k":"c","t":61,"s":0.969},{"p":11,"g":"No","k":"c","t":64.2,"s":0.969},
{"p":11,"k":"n","t":17.6,"s":0.912,"x":"Yes (n=11)"},{"p":11,"k":"n","t":19.7,"s":0.822,"x":"No (n=46)"},{"p":11,"k":"h","t":2.8,"s":0.288,"x":"Grade: Well"},{"p":11,"k":"sub","t":2.6,"s":0.164,"x":"PDX Growth"},{"p":11,"k":"pv","t":2.6,"s":0.049,"x":"=0.622"},

{"p":12,"g":"No","k":"e","t":0,"s":1},{"p":12,"g":"No","k":"e","t":2.5,"s":0.911},{"p":12,"g":"No","k":"e","t":40.7,"s":0.797},{"p":12,"g":"No","k":"e","t":64.2,"s":0.797},
{"p":12,"g":"No","k":"c","t":30,"s":0.911},{"p":12,"g":"No","k":"c","t":38,"s":0.911},{"p":12,"g":"No","k":"c","t":44,"s":0.797},{"p":12,"g":"No","k":"c","t":47,"s":0.797},{"p":12,"g":"No","k":"c","t":50,"s":0.797},{"p":12,"g":"No","k":"c","t":52,"s":0.797},{"p":12,"g":"No","k":"c","t":57,"s":0.797},{"p":12,"g":"No","k":"c","t":59,"s":0.797},{"p":12,"g":"No","k":"c","t":64.2,"s":0.797},
{"p":12,"g":"Yes","k":"e","t":0,"s":1},{"p":12,"g":"Yes","k":"e","t":68.2,"s":1},
{"p":12,"g":"Yes","k":"c","t":9,"s":1},{"p":12,"g":"Yes","k":"c","t":23,"s":1},{"p":12,"g":"Yes","k":"c","t":27,"s":1},{"p":12,"g":"Yes","k":"c","t":45,"s":1},{"p":12,"g":"Yes","k":"c","t":68.2,"s":1},
{"p":12,"k":"n","t":40.7,"s":0.946,"x":"Yes (n=5)"},{"p":12,"k":"n","t":41.7,"s":0.749,"x":"No (n=11)"},{"p":12,"k":"h","t":-1.6,"s":0.288,"x":"Grade: NA"},{"p":12,"k":"sub","t":0.6,"s":0.151,"x":"PDX Growth"},{"p":12,"k":"pv","t":0.6,"s":0.036,"x":"=0.403"}
]},
"data": {"name": "d"},
"columns": 4,
"spacing": {"row": 18, "column": 13},
"bounds": "flush",
"concat": [
{"width":299,"height":269,"transform":[{"filter":"datum.p == 1"}],
 "encoding":{"x":{"field":"t","type":"quantitative","scale":{"domain":[-4.75,74.1],"nice":false,"zero":false},"axis":{"values":[0,12,24,36,48,60,72],"labels":false,"title":null}},
  "y":{"field":"s","type":"quantitative","scale":{"domain":[-0.05,1.06],"nice":false,"zero":false},"axis":{"values":[0,0.2,0.4,0.6,0.8,1],"labels":true,"title":null,"labelExpr":"datum.value == 0 ? '0' : format(datum.value, '.1f')"}}},
 "layer":[
  {"transform":[{"filter":"datum.k == 'e'"}],"mark":{"type":"line","interpolate":"step-after","strokeWidth":1.6},"encoding":{"color":{"field":"g","type":"nominal","scale":{"domain":["No","Yes"],"range":["#4a63cf","#3cc13c"]},"legend":null}}},
  {"transform":[{"filter":"datum.k == 'c'"}],"mark":{"type":"point","shape":"M0,-1L0,1","size":20,"strokeWidth":1.3,"filled":false,"opacity":1},"encoding":{"color":{"field":"g","type":"nominal","scale":{"domain":["No","Yes"],"range":["#4a63cf","#3cc13c"]},"legend":null}}},
  {"transform":[{"filter":"datum.k == 'h'"}],"mark":{"type":"text","align":"left","baseline":"middle","fontSize":22.5,"fontWeight":"bold","color":"#111"},"encoding":{"text":{"field":"x"}}},
  {"transform":[{"filter":"datum.k == 'n'"}],"mark":{"type":"text","align":"left","baseline":"middle","fontSize":21,"color":"#111"},"encoding":{"text":{"field":"x"}}},
  {"transform":[{"filter":"datum.k == 'sub'"}],"mark":{"type":"text","align":"left","baseline":"middle","fontSize":22,"color":"#111"},"encoding":{"text":{"field":"x"}}},
  {"transform":[{"filter":"datum.k == 'pv'"}],"mark":{"type":"text","align":"left","baseline":"middle","fontSize":22,"fontStyle":"italic","color":"#111","text":"P"},"encoding":{}},
  {"transform":[{"filter":"datum.k == 'pv'"}],"mark":{"type":"text","align":"left","baseline":"middle","fontSize":22,"dx":14.5,"color":"#111"},"encoding":{"text":{"field":"x"}}}
 ]},
{"width":299,"height":269,"transform":[{"filter":"datum.p == 2"}],
 "encoding":{"x":{"field":"t","type":"quantitative","scale":{"domain":[-4.75,74.1],"nice":false,"zero":false},"axis":{"values":[0,12,24,36,48,60,72],"labels":false,"title":null}},
  "y":{"field":"s","type":"quantitative","scale":{"domain":[-0.05,1.06],"nice":false,"zero":false},"axis":{"values":[0,0.2,0.4,0.6,0.8,1],"labels":false,"title":null}}},
 "layer":[
  {"transform":[{"filter":"datum.k == 'e'"}],"mark":{"type":"line","interpolate":"step-after","strokeWidth":1.6},"encoding":{"color":{"field":"g","type":"nominal","scale":{"domain":["No","Yes"],"range":["#4a63cf","#3cc13c"]},"legend":null}}},
  {"transform":[{"filter":"datum.k == 'c'"}],"mark":{"type":"point","shape":"M0,-1L0,1","size":20,"strokeWidth":1.3,"filled":false,"opacity":1},"encoding":{"color":{"field":"g","type":"nominal","scale":{"domain":["No","Yes"],"range":["#4a63cf","#3cc13c"]},"legend":null}}},
  {"transform":[{"filter":"datum.k == 'h'"}],"mark":{"type":"text","align":"left","baseline":"middle","fontSize":22.5,"fontWeight":"bold","color":"#111"},"encoding":{"text":{"field":"x"}}},
  {"transform":[{"filter":"datum.k == 'n'"}],"mark":{"type":"text","align":"left","baseline":"middle","fontSize":21,"color":"#111"},"encoding":{"text":{"field":"x"}}},
  {"transform":[{"filter":"datum.k == 'sub'"}],"mark":{"type":"text","align":"left","baseline":"middle","fontSize":22,"color":"#111"},"encoding":{"text":{"field":"x"}}},
  {"transform":[{"filter":"datum.k == 'pv'"}],"mark":{"type":"text","align":"left","baseline":"middle","fontSize":22,"fontStyle":"italic","color":"#111","text":"P"},"encoding":{}},
  {"transform":[{"filter":"datum.k == 'pv'"}],"mark":{"type":"text","align":"left","baseline":"middle","fontSize":22,"dx":14.5,"color":"#111"},"encoding":{"text":{"field":"x"}}}
 ]},
{"width":299,"height":269,"transform":[{"filter":"datum.p == 3"}],
 "encoding":{"x":{"field":"t","type":"quantitative","scale":{"domain":[-4.75,74.1],"nice":false,"zero":false},"axis":{"values":[0,12,24,36,48,60,72],"labels":false,"title":null}},
  "y":{"field":"s","type":"quantitative","scale":{"domain":[-0.05,1.06],"nice":false,"zero":false},"axis":{"values":[0,0.2,0.4,0.6,0.8,1],"labels":false,"title":null}}},
 "layer":[
  {"transform":[{"filter":"datum.k == 'e'"}],"mark":{"type":"line","interpolate":"step-after","strokeWidth":1.6},"encoding":{"color":{"field":"g","type":"nominal","scale":{"domain":["No","Yes"],"range":["#4a63cf","#3cc13c"]},"legend":null}}},
  {"transform":[{"filter":"datum.k == 'c'"}],"mark":{"type":"point","shape":"M0,-1L0,1","size":20,"strokeWidth":1.3,"filled":false,"opacity":1},"encoding":{"color":{"field":"g","type":"nominal","scale":{"domain":["No","Yes"],"range":["#4a63cf","#3cc13c"]},"legend":null}}},
  {"transform":[{"filter":"datum.k == 'h'"}],"mark":{"type":"text","align":"left","baseline":"middle","fontSize":22.5,"fontWeight":"bold","color":"#111"},"encoding":{"text":{"field":"x"}}},
  {"transform":[{"filter":"datum.k == 'n'"}],"mark":{"type":"text","align":"left","baseline":"middle","fontSize":21,"color":"#111"},"encoding":{"text":{"field":"x"}}},
  {"transform":[{"filter":"datum.k == 'sub'"}],"mark":{"type":"text","align":"left","baseline":"middle","fontSize":22,"color":"#111"},"encoding":{"text":{"field":"x"}}},
  {"transform":[{"filter":"datum.k == 'pv'"}],"mark":{"type":"text","align":"left","baseline":"middle","fontSize":22,"fontStyle":"italic","color":"#111","text":"P"},"encoding":{}},
  {"transform":[{"filter":"datum.k == 'pv'"}],"mark":{"type":"text","align":"left","baseline":"middle","fontSize":22,"dx":14.5,"color":"#111"},"encoding":{"text":{"field":"x"}}}
 ]},
{"width":299,"height":269,"transform":[{"filter":"datum.p == 4"}],
 "encoding":{"x":{"field":"t","type":"quantitative","scale":{"domain":[-4.75,74.1],"nice":false,"zero":false},"axis":{"values":[0,12,24,36,48,60,72],"labels":false,"title":null}},
  "y":{"field":"s","type":"quantitative","scale":{"domain":[-0.05,1.06],"nice":false,"zero":false},"axis":{"values":[0,0.2,0.4,0.6,0.8,1],"labels":false,"title":null}}},
 "layer":[
  {"transform":[{"filter":"datum.k == 'e'"}],"mark":{"type":"line","interpolate":"step-after","strokeWidth":1.6},"encoding":{"color":{"field":"g","type":"nominal","scale":{"domain":["No","Yes"],"range":["#4a63cf","#3cc13c"]},"legend":null}}},
  {"transform":[{"filter":"datum.k == 'c'"}],"mark":{"type":"point","shape":"M0,-1L0,1","size":20,"strokeWidth":1.3,"filled":false,"opacity":1},"encoding":{"color":{"field":"g","type":"nominal","scale":{"domain":["No","Yes"],"range":["#4a63cf","#3cc13c"]},"legend":null}}},
  {"transform":[{"filter":"datum.k == 'h'"}],"mark":{"type":"text","align":"left","baseline":"middle","fontSize":22.5,"fontWeight":"bold","color":"#111"},"encoding":{"text":{"field":"x"}}},
  {"transform":[{"filter":"datum.k == 'n'"}],"mark":{"type":"text","align":"left","baseline":"middle","fontSize":21,"color":"#111"},"encoding":{"text":{"field":"x"}}},
  {"transform":[{"filter":"datum.k == 'sub'"}],"mark":{"type":"text","align":"left","baseline":"middle","fontSize":22,"color":"#111"},"encoding":{"text":{"field":"x"}}},
  {"transform":[{"filter":"datum.k == 'pv'"}],"mark":{"type":"text","align":"left","baseline":"middle","fontSize":22,"fontStyle":"italic","color":"#111","text":"P"},"encoding":{}},
  {"transform":[{"filter":"datum.k == 'pv'"}],"mark":{"type":"text","align":"left","baseline":"middle","fontSize":22,"dx":14.5,"color":"#111"},"encoding":{"text":{"field":"x"}}}
 ]},
{"width":299,"height":258,"transform":[{"filter":"datum.p == 5"}],
 "encoding":{"x":{"field":"t","type":"quantitative","scale":{"domain":[-4.75,74.1],"nice":false,"zero":false},"axis":{"values":[0,12,24,36,48,60,72],"labels":false,"title":null}},
  "y":{"field":"s","type":"quantitative","scale":{"domain":[-0.05,1.06],"nice":false,"zero":false},"axis":{"values":[0,0.2,0.4,0.6,0.8,1],"labels":true,"title":"Cumulative Survival Probability","titlePadding":45,"titleFontSize":22.5,"titleY":120,"labelExpr":"datum.value == 0 ? '0' : format(datum.value, '.1f')"}}},
 "layer":[
  {"transform":[{"filter":"datum.k == 'e'"}],"mark":{"type":"line","interpolate":"step-after","strokeWidth":1.6},"encoding":{"color":{"field":"g","type":"nominal","scale":{"domain":["No","Yes"],"range":["#4a63cf","#3cc13c"]},"legend":null}}},
  {"transform":[{"filter":"datum.k == 'c'"}],"mark":{"type":"point","shape":"M0,-1L0,1","size":20,"strokeWidth":1.3,"filled":false,"opacity":1},"encoding":{"color":{"field":"g","type":"nominal","scale":{"domain":["No","Yes"],"range":["#4a63cf","#3cc13c"]},"legend":null}}},
  {"transform":[{"filter":"datum.k == 'h'"}],"mark":{"type":"text","align":"left","baseline":"middle","fontSize":22.5,"fontWeight":"bold","color":"#111"},"encoding":{"text":{"field":"x"}}},
  {"transform":[{"filter":"datum.k == 'n'"}],"mark":{"type":"text","align":"left","baseline":"middle","fontSize":21,"color":"#111"},"encoding":{"text":{"field":"x"}}},
  {"transform":[{"filter":"datum.k == 'sub'"}],"mark":{"type":"text","align":"left","baseline":"middle","fontSize":22,"color":"#111"},"encoding":{"text":{"field":"x"}}},
  {"transform":[{"filter":"datum.k == 'pv'"}],"mark":{"type":"text","align":"left","baseline":"middle","fontSize":22,"fontStyle":"italic","color":"#111","text":"P"},"encoding":{}},
  {"transform":[{"filter":"datum.k == 'pv'"}],"mark":{"type":"text","align":"left","baseline":"middle","fontSize":22,"dx":14.5,"color":"#111"},"encoding":{"text":{"field":"x"}}}
 ]},
{"width":299,"height":258,"transform":[{"filter":"datum.p == 6"}],
 "encoding":{"x":{"field":"t","type":"quantitative","scale":{"domain":[-4.75,74.1],"nice":false,"zero":false},"axis":{"values":[0,12,24,36,48,60,72],"labels":false,"title":null}},
  "y":{"field":"s","type":"quantitative","scale":{"domain":[-0.05,1.06],"nice":false,"zero":false},"axis":{"values":[0,0.2,0.4,0.6,0.8,1],"labels":false,"title":null}}},
 "layer":[
  {"transform":[{"filter":"datum.k == 'e'"}],"mark":{"type":"line","interpolate":"step-after","strokeWidth":1.6},"encoding":{"color":{"field":"g","type":"nominal","scale":{"domain":["No","Yes"],"range":["#4a63cf","#3cc13c"]},"legend":null}}},
  {"transform":[{"filter":"datum.k == 'c'"}],"mark":{"type":"point","shape":"M0,-1L0,1","size":20,"strokeWidth":1.3,"filled":false,"opacity":1},"encoding":{"color":{"field":"g","type":"nominal","scale":{"domain":["No","Yes"],"range":["#4a63cf","#3cc13c"]},"legend":null}}},
  {"transform":[{"filter":"datum.k == 'h'"}],"mark":{"type":"text","align":"left","baseline":"middle","fontSize":22.5,"fontWeight":"bold","color":"#111"},"encoding":{"text":{"field":"x"}}},
  {"transform":[{"filter":"datum.k == 'n'"}],"mark":{"type":"text","align":"left","baseline":"middle","fontSize":21,"color":"#111"},"encoding":{"text":{"field":"x"}}},
  {"transform":[{"filter":"datum.k == 'sub'"}],"mark":{"type":"text","align":"left","baseline":"middle","fontSize":22,"color":"#111"},"encoding":{"text":{"field":"x"}}},
  {"transform":[{"filter":"datum.k == 'pv'"}],"mark":{"type":"text","align":"left","baseline":"middle","fontSize":22,"fontStyle":"italic","color":"#111","text":"P"},"encoding":{}},
  {"transform":[{"filter":"datum.k == 'pv'"}],"mark":{"type":"text","align":"left","baseline":"middle","fontSize":22,"dx":14.5,"color":"#111"},"encoding":{"text":{"field":"x"}}}
 ]},
{"width":299,"height":258,"transform":[{"filter":"datum.p == 7"}],
 "encoding":{"x":{"field":"t","type":"quantitative","scale":{"domain":[-4.75,74.1],"nice":false,"zero":false},"axis":{"values":[0,12,24,36,48,60,72],"labels":false,"title":null}},
  "y":{"field":"s","type":"quantitative","scale":{"domain":[-0.05,1.06],"nice":false,"zero":false},"axis":{"values":[0,0.2,0.4,0.6,0.8,1],"labels":false,"title":null}}},
 "layer":[
  {"transform":[{"filter":"datum.k == 'e'"}],"mark":{"type":"line","interpolate":"step-after","strokeWidth":1.6},"encoding":{"color":{"field":"g","type":"nominal","scale":{"domain":["No","Yes"],"range":["#4a63cf","#3cc13c"]},"legend":null}}},
  {"transform":[{"filter":"datum.k == 'c'"}],"mark":{"type":"point","shape":"M0,-1L0,1","size":20,"strokeWidth":1.3,"filled":false,"opacity":1},"encoding":{"color":{"field":"g","type":"nominal","scale":{"domain":["No","Yes"],"range":["#4a63cf","#3cc13c"]},"legend":null}}},
  {"transform":[{"filter":"datum.k == 'h'"}],"mark":{"type":"text","align":"left","baseline":"middle","fontSize":22.5,"fontWeight":"bold","color":"#111"},"encoding":{"text":{"field":"x"}}},
  {"transform":[{"filter":"datum.k == 'n'"}],"mark":{"type":"text","align":"left","baseline":"middle","fontSize":21,"color":"#111"},"encoding":{"text":{"field":"x"}}},
  {"transform":[{"filter":"datum.k == 'sub'"}],"mark":{"type":"text","align":"left","baseline":"middle","fontSize":22,"color":"#111"},"encoding":{"text":{"field":"x"}}},
  {"transform":[{"filter":"datum.k == 'pv'"}],"mark":{"type":"text","align":"left","baseline":"middle","fontSize":22,"fontStyle":"italic","color":"#111","text":"P"},"encoding":{}},
  {"transform":[{"filter":"datum.k == 'pv'"}],"mark":{"type":"text","align":"left","baseline":"middle","fontSize":22,"dx":14.5,"color":"#111"},"encoding":{"text":{"field":"x"}}}
 ]},
{"width":299,"height":258,"transform":[{"filter":"datum.p == 8"}],
 "encoding":{"x":{"field":"t","type":"quantitative","scale":{"domain":[-4.75,74.1],"nice":false,"zero":false},"axis":{"values":[0,12,24,36,48,60,72],"labels":false,"title":null}},
  "y":{"field":"s","type":"quantitative","scale":{"domain":[-0.05,1.06],"nice":false,"zero":false},"axis":{"values":[0,0.2,0.4,0.6,0.8,1],"labels":false,"title":null}}},
 "layer":[
  {"transform":[{"filter":"datum.k == 'e'"}],"mark":{"type":"line","interpolate":"step-after","strokeWidth":1.6},"encoding":{"color":{"field":"g","type":"nominal","scale":{"domain":["No","Yes"],"range":["#4a63cf","#3cc13c"]},"legend":null}}},
  {"transform":[{"filter":"datum.k == 'c'"}],"mark":{"type":"point","shape":"M0,-1L0,1","size":20,"strokeWidth":1.3,"filled":false,"opacity":1},"encoding":{"color":{"field":"g","type":"nominal","scale":{"domain":["No","Yes"],"range":["#4a63cf","#3cc13c"]},"legend":null}}},
  {"transform":[{"filter":"datum.k == 'h'"}],"mark":{"type":"text","align":"left","baseline":"middle","fontSize":22.5,"fontWeight":"bold","color":"#111"},"encoding":{"text":{"field":"x"}}},
  {"transform":[{"filter":"datum.k == 'n'"}],"mark":{"type":"text","align":"left","baseline":"middle","fontSize":21,"color":"#111"},"encoding":{"text":{"field":"x"}}},
  {"transform":[{"filter":"datum.k == 'sub'"}],"mark":{"type":"text","align":"left","baseline":"middle","fontSize":22,"color":"#111"},"encoding":{"text":{"field":"x"}}},
  {"transform":[{"filter":"datum.k == 'pv'"}],"mark":{"type":"text","align":"left","baseline":"middle","fontSize":22,"fontStyle":"italic","color":"#111","text":"P"},"encoding":{}},
  {"transform":[{"filter":"datum.k == 'pv'"}],"mark":{"type":"text","align":"left","baseline":"middle","fontSize":22,"dx":14.5,"color":"#111"},"encoding":{"text":{"field":"x"}}}
 ]},
{"width":299,"height":258,"transform":[{"filter":"datum.p == 9"}],
 "encoding":{"x":{"field":"t","type":"quantitative","scale":{"domain":[-4.75,74.1],"nice":false,"zero":false},"axis":{"values":[0,12,24,36,48,60,72],"labels":true,"title":null}},
  "y":{"field":"s","type":"quantitative","scale":{"domain":[-0.05,1.06],"nice":false,"zero":false},"axis":{"values":[0,0.2,0.4,0.6,0.8,1],"labels":true,"title":null,"labelExpr":"datum.value == 0 ? '0' : format(datum.value, '.1f')"}}},
 "layer":[
  {"transform":[{"filter":"datum.k == 'e'"}],"mark":{"type":"line","interpolate":"step-after","strokeWidth":1.6},"encoding":{"color":{"field":"g","type":"nominal","scale":{"domain":["No","Yes"],"range":["#4a63cf","#3cc13c"]},"legend":null}}},
  {"transform":[{"filter":"datum.k == 'c'"}],"mark":{"type":"point","shape":"M0,-1L0,1","size":20,"strokeWidth":1.3,"filled":false,"opacity":1},"encoding":{"color":{"field":"g","type":"nominal","scale":{"domain":["No","Yes"],"range":["#4a63cf","#3cc13c"]},"legend":null}}},
  {"transform":[{"filter":"datum.k == 'h'"}],"mark":{"type":"text","align":"left","baseline":"middle","fontSize":22.5,"fontWeight":"bold","color":"#111"},"encoding":{"text":{"field":"x"}}},
  {"transform":[{"filter":"datum.k == 'n'"}],"mark":{"type":"text","align":"left","baseline":"middle","fontSize":21,"color":"#111"},"encoding":{"text":{"field":"x"}}},
  {"transform":[{"filter":"datum.k == 'sub'"}],"mark":{"type":"text","align":"left","baseline":"middle","fontSize":22,"color":"#111"},"encoding":{"text":{"field":"x"}}},
  {"transform":[{"filter":"datum.k == 'pv'"}],"mark":{"type":"text","align":"left","baseline":"middle","fontSize":22,"fontStyle":"italic","color":"#111","text":"P"},"encoding":{}},
  {"transform":[{"filter":"datum.k == 'pv'"}],"mark":{"type":"text","align":"left","baseline":"middle","fontSize":22,"dx":14.5,"color":"#111"},"encoding":{"text":{"field":"x"}}}
 ]},
{"width":299,"height":258,"transform":[{"filter":"datum.p == 10"}],
 "encoding":{"x":{"field":"t","type":"quantitative","scale":{"domain":[-4.75,74.1],"nice":false,"zero":false},"axis":{"values":[0,12,24,36,48,60,72],"labels":true,"title":null}},
  "y":{"field":"s","type":"quantitative","scale":{"domain":[-0.05,1.06],"nice":false,"zero":false},"axis":{"values":[0,0.2,0.4,0.6,0.8,1],"labels":false,"title":null}}},
 "layer":[
  {"transform":[{"filter":"datum.k == 'e'"}],"mark":{"type":"line","interpolate":"step-after","strokeWidth":1.6},"encoding":{"color":{"field":"g","type":"nominal","scale":{"domain":["No","Yes"],"range":["#4a63cf","#3cc13c"]},"legend":null}}},
  {"transform":[{"filter":"datum.k == 'c'"}],"mark":{"type":"point","shape":"M0,-1L0,1","size":20,"strokeWidth":1.3,"filled":false,"opacity":1},"encoding":{"color":{"field":"g","type":"nominal","scale":{"domain":["No","Yes"],"range":["#4a63cf","#3cc13c"]},"legend":null}}},
  {"transform":[{"filter":"datum.k == 'h'"}],"mark":{"type":"text","align":"left","baseline":"middle","fontSize":22.5,"fontWeight":"bold","color":"#111"},"encoding":{"text":{"field":"x"}}},
  {"transform":[{"filter":"datum.k == 'n'"}],"mark":{"type":"text","align":"left","baseline":"middle","fontSize":21,"color":"#111"},"encoding":{"text":{"field":"x"}}},
  {"transform":[{"filter":"datum.k == 'sub'"}],"mark":{"type":"text","align":"left","baseline":"middle","fontSize":22,"color":"#111"},"encoding":{"text":{"field":"x"}}},
  {"transform":[{"filter":"datum.k == 'pv'"}],"mark":{"type":"text","align":"left","baseline":"middle","fontSize":22,"fontStyle":"italic","color":"#111","text":"P"},"encoding":{}},
  {"transform":[{"filter":"datum.k == 'pv'"}],"mark":{"type":"text","align":"left","baseline":"middle","fontSize":22,"dx":14.5,"color":"#111"},"encoding":{"text":{"field":"x"}}}
 ]},
{"width":299,"height":258,"transform":[{"filter":"datum.p == 11"}],
 "encoding":{"x":{"field":"t","type":"quantitative","scale":{"domain":[-4.75,74.1],"nice":false,"zero":false},"axis":{"values":[0,12,24,36,48,60,72],"labels":true,"title":null}},
  "y":{"field":"s","type":"quantitative","scale":{"domain":[-0.05,1.06],"nice":false,"zero":false},"axis":{"values":[0,0.2,0.4,0.6,0.8,1],"labels":false,"title":null}}},
 "layer":[
  {"transform":[{"filter":"datum.k == 'e'"}],"mark":{"type":"line","interpolate":"step-after","strokeWidth":1.6},"encoding":{"color":{"field":"g","type":"nominal","scale":{"domain":["No","Yes"],"range":["#4a63cf","#3cc13c"]},"legend":null}}},
  {"transform":[{"filter":"datum.k == 'c'"}],"mark":{"type":"point","shape":"M0,-1L0,1","size":20,"strokeWidth":1.3,"filled":false,"opacity":1},"encoding":{"color":{"field":"g","type":"nominal","scale":{"domain":["No","Yes"],"range":["#4a63cf","#3cc13c"]},"legend":null}}},
  {"transform":[{"filter":"datum.k == 'h'"}],"mark":{"type":"text","align":"left","baseline":"middle","fontSize":22.5,"fontWeight":"bold","color":"#111"},"encoding":{"text":{"field":"x"}}},
  {"transform":[{"filter":"datum.k == 'n'"}],"mark":{"type":"text","align":"left","baseline":"middle","fontSize":21,"color":"#111"},"encoding":{"text":{"field":"x"}}},
  {"transform":[{"filter":"datum.k == 'sub'"}],"mark":{"type":"text","align":"left","baseline":"middle","fontSize":22,"color":"#111"},"encoding":{"text":{"field":"x"}}},
  {"transform":[{"filter":"datum.k == 'pv'"}],"mark":{"type":"text","align":"left","baseline":"middle","fontSize":22,"fontStyle":"italic","color":"#111","text":"P"},"encoding":{}},
  {"transform":[{"filter":"datum.k == 'pv'"}],"mark":{"type":"text","align":"left","baseline":"middle","fontSize":22,"dx":14.5,"color":"#111"},"encoding":{"text":{"field":"x"}}}
 ]},
{"width":299,"height":258,"transform":[{"filter":"datum.p == 12"}],
 "encoding":{"x":{"field":"t","type":"quantitative","scale":{"domain":[-4.75,74.1],"nice":false,"zero":false},"axis":{"values":[0,12,24,36,48,60,72],"labels":true,"title":null}},
  "y":{"field":"s","type":"quantitative","scale":{"domain":[-0.05,1.06],"nice":false,"zero":false},"axis":{"values":[0,0.2,0.4,0.6,0.8,1],"labels":false,"title":null}}},
 "layer":[
  {"transform":[{"filter":"datum.k == 'e'"}],"mark":{"type":"line","interpolate":"step-after","strokeWidth":1.6},"encoding":{"color":{"field":"g","type":"nominal","scale":{"domain":["No","Yes"],"range":["#4a63cf","#3cc13c"]},"legend":null}}},
  {"transform":[{"filter":"datum.k == 'c'"}],"mark":{"type":"point","shape":"M0,-1L0,1","size":20,"strokeWidth":1.3,"filled":false,"opacity":1},"encoding":{"color":{"field":"g","type":"nominal","scale":{"domain":["No","Yes"],"range":["#4a63cf","#3cc13c"]},"legend":null}}},
  {"transform":[{"filter":"datum.k == 'h'"}],"mark":{"type":"text","align":"left","baseline":"middle","fontSize":22.5,"fontWeight":"bold","color":"#111"},"encoding":{"text":{"field":"x"}}},
  {"transform":[{"filter":"datum.k == 'n'"}],"mark":{"type":"text","align":"left","baseline":"middle","fontSize":21,"color":"#111"},"encoding":{"text":{"field":"x"}}},
  {"transform":[{"filter":"datum.k == 'sub'"}],"mark":{"type":"text","align":"left","baseline":"middle","fontSize":22,"color":"#111"},"encoding":{"text":{"field":"x"}}},
  {"transform":[{"filter":"datum.k == 'pv'"}],"mark":{"type":"text","align":"left","baseline":"middle","fontSize":22,"fontStyle":"italic","color":"#111","text":"P"},"encoding":{}},
  {"transform":[{"filter":"datum.k == 'pv'"}],"mark":{"type":"text","align":"left","baseline":"middle","fontSize":22,"dx":14.5,"color":"#111"},"encoding":{"text":{"field":"x"}}}
 ]}
],
"config": {
 "font": "Liberation Sans",
 "view": {"stroke": "#8a8a8a", "strokeWidth": 1.5},
 "axis": {"domain": false, "grid": false, "ticks": true, "tickSize": 5, "tickColor": "#808080", "tickWidth": 1.2, "labelFontSize": 20, "labelColor": "#000", "labelFont": "Liberation Sans", "titleFontSize": 21, "titleFontWeight": "bold", "titleColor": "#000", "titleFont": "Liberation Sans"},
 "axisX": {"labelPadding": 6},
 "axisY": {"labelPadding": 3},
 "text": {"font": "Liberation Sans"}
}
}
